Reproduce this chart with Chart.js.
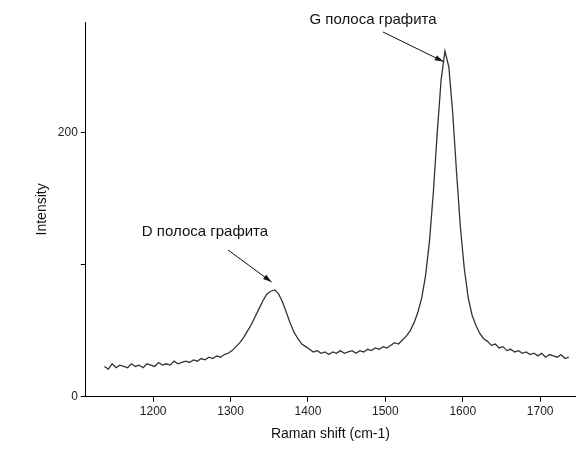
<!DOCTYPE html>
<html><head><meta charset="utf-8">
<script src="https://cdn.jsdelivr.net/npm/chart.js@4"></script>
<style>body{margin:0;background:#fff}#wrap{width:583px;height:453px}</style>
</head><body><div id="wrap"><canvas id="c"></canvas></div>
<script>
// Raman spectrum, sampled every 5 cm-1
const shift = [];
for (let s = 1137; s <= 1737; s += 5) shift.push(s);
const intensity = [23,21,25,22,24,23,22,25,23,24,22,25,24,23,26,24,25,24,27,25,26,27,26,28,27,29,28,30,29,31,30,32,
  33,35,38,41,45,50,55,61,67,73,78,80,81,78,72,64,56,49,44,40,38,36,34,35,33,34,32,34,33,35,33,34,35,33,35,34,36,35,37,36,
  38,37,39,41,40,43,46,50,56,64,75,92,118,155,200,240,262,250,215,170,128,97,75,62,54,48,44,42,39,40,37,38,35,36,34,35,33,34,32,33,
  31,33,30,32,31,30,32,29,30];
const xTicks = [1200, 1300, 1400, 1500, 1600, 1700];
const yTicks = [0, 100, 200];
const yLabels = {0: "0", 200: "200"};
const notes = [
  {text: "G полоса графита", tx: 373, ty: 20, sx: 383, sy: 32, ax: 1575, ay: 254},
  {text: "D полоса графита", tx: 205, ty: 232, sx: 228, sy: 250, ax: 1353, ay: 87}
];

// labels with arrows toward the peaks
const notePlugin = {
  id: "notes",
  afterDraw(chart) {
    const ctx = chart.ctx, xs = chart.scales.x, ys = chart.scales.y;
    ctx.save();
    ctx.font = "15px 'Liberation Sans', Arial";
    ctx.fillStyle = "#111"; ctx.strokeStyle = "#111"; ctx.lineWidth = 1;
    ctx.textAlign = "center"; ctx.textBaseline = "middle";
    notes.forEach(n => {
      ctx.fillText(n.text, n.tx, n.ty);
      const ex = xs.getPixelForValue(n.ax), ey = ys.getPixelForValue(n.ay);
      ctx.beginPath(); ctx.moveTo(n.sx, n.sy); ctx.lineTo(ex, ey); ctx.stroke();
      const a = Math.atan2(ey - n.sy, ex - n.sx);
      ctx.beginPath(); ctx.moveTo(ex, ey);
      ctx.lineTo(ex - 9 * Math.cos(a - 0.3), ey - 9 * Math.sin(a - 0.3));
      ctx.lineTo(ex - 9 * Math.cos(a + 0.3), ey - 9 * Math.sin(a + 0.3));
      ctx.closePath(); ctx.fill();
    });
    ctx.restore();
  }
};

new Chart(document.getElementById("c"), {
  type: "line",
  data: {datasets: [{data: shift.map((s, i) => ({x: s, y: intensity[i]})),
    borderColor: "#333", borderWidth: 1.3, pointRadius: 0, tension: 0}]},
  options: {
    responsive: true, maintainAspectRatio: false, animation: false,
    layout: {padding: {top: 22, right: 8, left: 30, bottom: 6}},
    plugins: {legend: {display: false}, tooltip: {enabled: false}},
    scales: {
      x: {type: "linear", min: 1113, max: 1745,
        afterBuildTicks: a => { a.ticks = xTicks.map(v => ({value: v})); },
        grid: {drawOnChartArea: false, color: "#000", tickLength: 5},
        border: {color: "#000"},
        ticks: {color: "#222", font: {family: "Liberation Sans", size: 12}, callback: v => String(v)},
        title: {display: true, text: "Raman shift (cm-1)", color: "#111", font: {family: "Liberation Sans", size: 14}}},
      y: {min: 0, max: 284,
        afterBuildTicks: a => { a.ticks = yTicks.map(v => ({value: v})); },
        grid: {drawOnChartArea: false, color: "#000", tickLength: 5},
        border: {color: "#000"},
        ticks: {color: "#222", font: {family: "Liberation Sans", size: 12}, callback: v => yLabels[v] || ""},
        title: {display: true, text: "Intensity", color: "#111", font: {family: "Liberation Sans", size: 14}}}
    }
  },
  plugins: [notePlugin]
});
</script></body></html>
